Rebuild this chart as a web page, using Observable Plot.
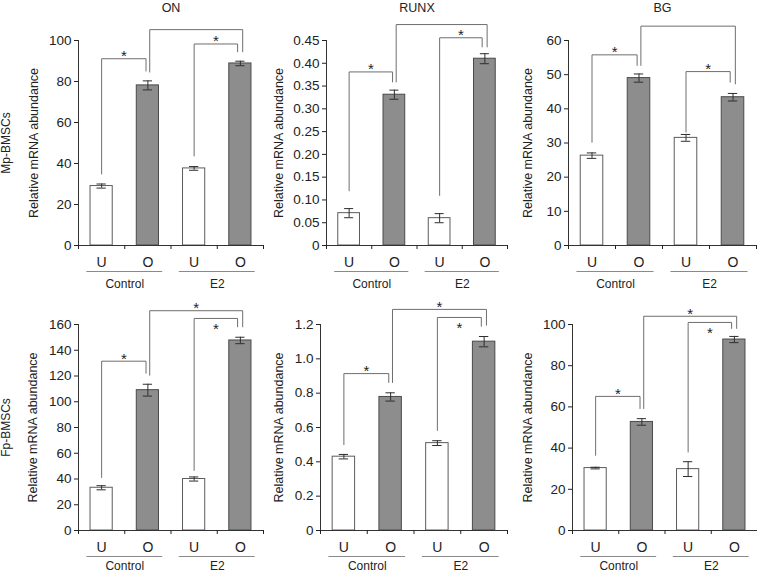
<!DOCTYPE html>
<html><head><meta charset="utf-8">
<script src="https://cdn.jsdelivr.net/npm/d3@7"></script>
<script src="https://cdn.jsdelivr.net/npm/@observablehq/plot@0.6"></script>
<style>
body{margin:0;background:#fff}
#chart{position:relative;width:757px;height:573px;background:#fff;overflow:hidden}
.cell{position:absolute}
</style>
</head><body><div id="chart"></div>
<script>
// ---------- DATA ----------
const genes = ["ON", "RUNX", "BG"];
const cellTypes = ["Mp-BMSCs", "Fp-BMSCs"];
const groups = ["Control", "E2"];
const conditions = ["U", "O"];
const yTitle = "Relative mRNA abundance";

// order of bars: Control-U, Control-O, E2-U, E2-O
const onMp = [29.0, 78.1, 37.6, 88.8];
const onMpErr = [1.0, 2.2, 0.9, 1.1];
const runxMp = [0.071, 0.331, 0.060, 0.410];
const runxMpErr = [0.010, 0.010, 0.010, 0.011];
const bgMp = [26.3, 49.0, 31.5, 43.4];
const bgMpErr = [0.8, 1.2, 1.0, 1.1];
const onFp = [33.2, 109.0, 40.0, 147.6];
const onFpErr = [1.6, 4.6, 1.6, 2.5];
const runxFp = [0.430, 0.778, 0.509, 1.100];
const runxFpErr = [0.013, 0.024, 0.014, 0.030];
const bgFp = [30.3, 52.7, 29.8, 92.7];
const bgFpErr = [0.4, 1.6, 3.6, 1.5];

// y ticks and their labels
const onMpTicks = [0, 20, 40, 60, 80, 100];
const onMpTickLabels = ["0", "20", "40", "60", "80", "100"];
const runxMpTicks = [0, 0.05, 0.1, 0.15, 0.2, 0.25, 0.3, 0.35, 0.4, 0.45];
const runxMpTickLabels = ["0", "0.05", "0.10", "0.15", "0.20", "0.25", "0.30", "0.35", "0.40", "0.45"];
const bgMpTicks = [0, 10, 20, 30, 40, 50, 60];
const bgMpTickLabels = ["0", "10", "20", "30", "40", "50", "60"];
const onFpTicks = [0, 20, 40, 60, 80, 100, 120, 140, 160];
const onFpTickLabels = ["0", "20", "40", "60", "80", "100", "120", "140", "160"];
const runxFpTicks = [0, 0.2, 0.4, 0.6, 0.8, 1.0, 1.2];
const runxFpTickLabels = ["0", "0.2", "0.4", "0.6", "0.8", "1.0", "1.2"];
const bgFpTicks = [0, 20, 40, 60, 80, 100];
const bgFpTickLabels = ["0", "20", "40", "60", "80", "100"];

// significance brackets: bar indices, bracket top, leg bottoms (data units), star placement
const onMpBrackets = [
  {kind: "control", from: 0, to: 1, top: 91.1, fromBase: 34.9, toBase: 85.1, star: "above"},
  {kind: "e2", from: 2, to: 3, top: 98.3, fromBase: 43.7, toBase: 94.5, star: "above"},
  {kind: "between", from: 1, to: 3, top: 105.3, fromBase: 84.6, toBase: 94.5, star: "none"}
];
const runxMpBrackets = [
  {kind: "control", from: 0, to: 1, top: 0.381, fromBase: 0.120, toBase: 0.359, star: "above"},
  {kind: "e2", from: 2, to: 3, top: 0.456, fromBase: 0.110, toBase: 0.436, star: "above"},
  {kind: "between", from: 1, to: 3, top: 0.485, fromBase: 0.359, toBase: 0.436, star: "none"}
];
const bgMpBrackets = [
  {kind: "control", from: 0, to: 1, top: 55.8, fromBase: 30.2, toBase: 52.7, star: "above"},
  {kind: "e2", from: 2, to: 3, top: 50.9, fromBase: 33.2, toBase: 47.8, star: "above"},
  {kind: "between", from: 1, to: 3, top: 64.2, fromBase: 52.7, toBase: 47.3, star: "none"}
];
const onFpBrackets = [
  {kind: "control", from: 0, to: 1, top: 131.5, fromBase: 41.2, toBase: 122.2, star: "above"},
  {kind: "e2", from: 2, to: 3, top: 164.7, fromBase: 46.7, toBase: 158.2, star: "below"},
  {kind: "between", from: 1, to: 3, top: 170.7, fromBase: 120.6, toBase: 158.2, star: "above"}
];
const runxFpBrackets = [
  {kind: "control", from: 0, to: 1, top: 0.914, fromBase: 0.50, toBase: 0.862, star: "above"},
  {kind: "e2", from: 2, to: 3, top: 1.241, fromBase: 0.583, toBase: 1.190, star: "below"},
  {kind: "between", from: 1, to: 3, top: 1.288, fromBase: 0.862, toBase: 1.196, star: "above"}
];
const bgFpBrackets = [
  {kind: "control", from: 0, to: 1, top: 65.1, fromBase: 36.5, toBase: 59.2, star: "above"},
  {kind: "e2", from: 2, to: 3, top: 101.0, fromBase: 38.1, toBase: 98.1, star: "below"},
  {kind: "between", from: 1, to: 3, top: 104.0, fromBase: 59.2, toBase: 98.1, star: "above"}
];

// ---------- LAYOUT / STYLE ----------
const legOffset = {control: [0, -0.04], e2: [0, -0.06], between: [0.04, 0.05]};
const panels = [
  {gene: 0, cell: 0, values: onMp, errors: onMpErr, ticks: onMpTicks, labels: onMpTickLabels, brackets: onMpBrackets,
   left: 0, top: 0, ml: 78, fw: 185, mr: 5, mt: 40, h: 290, mb: 45, titleDx: -45, groupDy: 38.5},
  {gene: 1, cell: 0, values: runxMp, errors: runxMpErr, ticks: runxMpTicks, labels: runxMpTickLabels, brackets: runxMpBrackets,
   left: 250, top: 0, ml: 76, fw: 181, mr: 6, mt: 40, h: 290, mb: 45, titleDx: -48, groupDy: 38.5},
  {gene: 2, cell: 0, values: bgMp, errors: bgMpErr, ticks: bgMpTicks, labels: bgMpTickLabels, brackets: bgMpBrackets,
   left: 500, top: 0, ml: 68, fw: 188, mr: 1, mt: 40, h: 290, mb: 45, titleDx: -41, groupDy: 38.5},
  {gene: 0, cell: 1, values: onFp, errors: onFpErr, ticks: onFpTicks, labels: onFpTickLabels, brackets: onFpBrackets,
   left: 0, top: 290, ml: 78, fw: 185, mr: 5, mt: 34, h: 283, mb: 43, titleDx: -46, groupDy: 36},
  {gene: 1, cell: 1, values: runxFp, errors: runxFpErr, ticks: runxFpTicks, labels: runxFpTickLabels, brackets: runxFpBrackets,
   left: 250, top: 290, ml: 70, fw: 187, mr: 6, mt: 34, h: 283, mb: 43, titleDx: -42, groupDy: 36},
  {gene: 2, cell: 1, values: bgFp, errors: bgFpErr, ticks: bgFpTicks, labels: bgFpTickLabels, brackets: bgFpBrackets,
   left: 500, top: 290, ml: 72, fw: 185, mr: 0, mt: 34, h: 283, mb: 43, titleDx: -45, groupDy: 36}
];
const FONT = "'Liberation Sans', Arial, Helvetica, sans-serif";
const INK = "#222";

const chart = document.getElementById("chart");

panels.forEach(p => {
  const bars = p.values.map((v, i) => ({i, cond: conditions[i % 2], group: groups[Math.floor(i / 2)], value: v, err: p.errors[i]}));
  const groupData = groups.map((g, k) => ({name: g, center: 2 * k + 1}));
  const labelMap = new Map(p.ticks.map((t, k) => [t, p.labels[k]]));
  const yMax = p.ticks[p.ticks.length - 1];

  const pts = [];
  const stars = [];
  p.brackets.forEach((b, k) => {
    const [o0, o1] = legOffset[b.kind];
    const xa = b.from + 0.5 + o0, xb = b.to + 0.5 + o1;
    pts.push({id: k, x: xa, y: b.fromBase}, {id: k, x: xa, y: b.top}, {id: k, x: xb, y: b.top}, {id: k, x: xb, y: b.toBase});
    if (b.star !== "none") stars.push({x: (xa + xb) / 2, y: b.top, pos: b.star});
  });

  const extra = [];
  if (p.cell === 0) {
    extra.push(Plot.text([genes[p.gene]], {frameAnchor: "top", text: d => d, dy: -33, lineAnchor: "middle", textAnchor: "middle", fontSize: 12.5, fill: INK}));
  }
  if (p.gene === 0) {
    extra.push(Plot.text([cellTypes[p.cell]], {frameAnchor: "left", text: d => d, dx: -72, rotate: -90, textAnchor: "middle", lineAnchor: "middle", fontSize: 12, fill: INK}));
  }

  const svg = Plot.plot({
    width: p.ml + p.fw + p.mr,
    height: p.h,
    marginLeft: p.ml, marginRight: p.mr, marginTop: p.mt, marginBottom: p.mb,
    x: {domain: [0, 4]},
    y: {domain: [0, yMax]},
    style: {fontFamily: FONT, fontSize: "13px", color: INK, background: "transparent", overflow: "visible"},
    marks: [
      Plot.rectY(bars, {x1: d => d.i + 0.26, x2: d => d.i + 0.74, y1: 0, y2: "value",
        fill: d => d.cond === "O" ? "#8d8d8d" : "#ffffff", stroke: d => d.cond === "O" ? "#4a4a4a" : "#5c5c5c", strokeWidth: 1}),
      Plot.ruleX(bars, {x: d => d.i + 0.5, y1: d => d.value - d.err, y2: d => d.value + d.err, stroke: "#2e2e2e", strokeWidth: 1}),
      Plot.ruleY(bars, {x1: d => d.i + 0.4, x2: d => d.i + 0.6, y: d => d.value + d.err, stroke: "#2e2e2e", strokeWidth: 1}),
      Plot.ruleY(bars, {x1: d => d.i + 0.4, x2: d => d.i + 0.6, y: d => d.value - d.err, stroke: "#2e2e2e", strokeWidth: 1}),
      Plot.line(pts, {x: "x", y: "y", z: "id", stroke: "#6e6e6e", strokeWidth: 1}),
      Plot.text(stars.filter(s => s.pos === "above"), {x: "x", y: "y", text: () => "*", dy: -2.5, fontSize: 15, fill: INK}),
      Plot.text(stars.filter(s => s.pos === "below"), {x: "x", y: "y", text: () => "*", dy: 10.5, fontSize: 15, fill: INK}),
      Plot.ruleX([0], {stroke: "#333"}),
      Plot.ruleY([0], {stroke: "#333"}),
      Plot.axisY({ticks: p.ticks, tickFormat: d => labelMap.get(d), tickSize: 4, tickPadding: 3, fontSize: 13.5, label: null}),
      Plot.axisX({ticks: [0, 1, 2, 3, 4], tickFormat: () => "", tickSize: 4, label: null}),
      Plot.text(bars, {x: d => d.i + 0.5, y: 0, text: "cond", dy: 17, fontSize: 14, fill: INK}),
      Plot.ruleY(groupData, {x1: d => d.center - 0.82, x2: d => d.center + 0.82, y: 0, dy: 26, stroke: "#8a8a8a", strokeWidth: 1}),
      Plot.text(groupData, {x: "center", y: 0, text: "name", dy: p.groupDy, fontSize: 12, fill: INK}),
      Plot.text([yTitle], {frameAnchor: "left", text: d => d, dx: p.titleDx, rotate: -90, textAnchor: "middle", lineAnchor: "middle", fontSize: 12.5, fill: INK}),
      ...extra
    ]
  });
  const wrap = document.createElement("div");
  wrap.className = "cell";
  wrap.style.left = p.left + "px";
  wrap.style.top = p.top + "px";
  wrap.style.width = (p.ml + p.fw + p.mr) + "px";
  wrap.appendChild(svg);
  chart.appendChild(wrap);
});
</script></body></html>
